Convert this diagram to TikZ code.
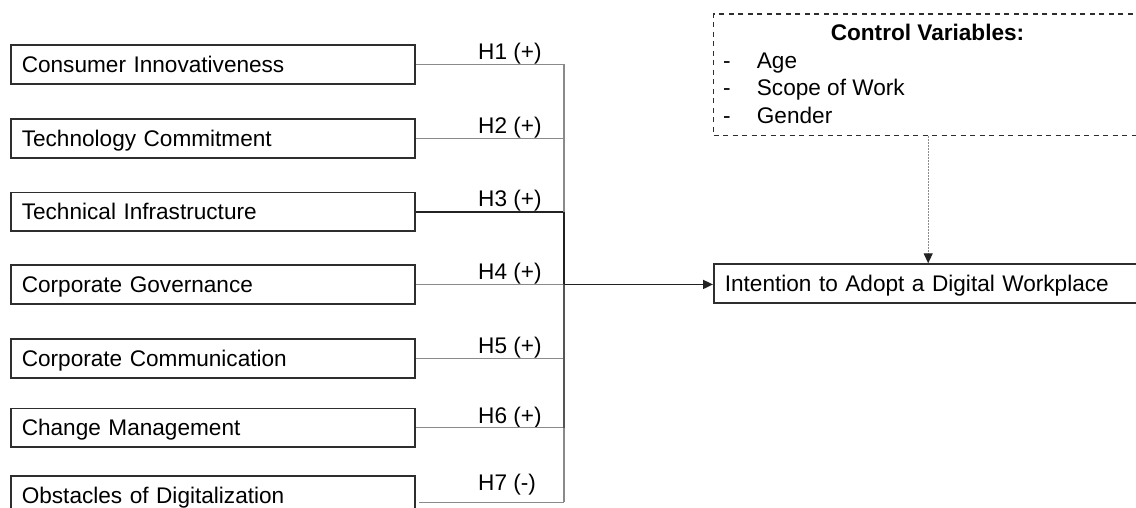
\documentclass[tikz,border=0pt]{standalone}
\usepackage{fontspec}
\setmainfont{Liberation Sans}
\usetikzlibrary{arrows.meta}
\definecolor{boxline}{HTML}{2E2E2E}
\definecolor{thinline}{HTML}{8A8A8A}
\definecolor{midline}{HTML}{555555}
\definecolor{darkline}{HTML}{222222}
\newcommand{\diagfont}{\fontsize{22.6}{27}\selectfont}
\newcommand{\widespaces}{\spaceskip=0.5em plus 0.1em\relax}
\tikzset{
  x=1pt, y=-1pt,
  factor/.style={draw=boxline, line width=1.6pt, anchor=north west,
    minimum width=404pt, minimum height=38.7pt, text width=382pt,
    inner xsep=11pt, inner ysep=0pt, align=left,
    text height=16.1pt, text depth=0pt, font=\diagfont\widespaces},
  outcome/.style={factor, minimum width=430pt, text width=408pt},
  ctrlbox/.style={draw=boxline, line width=1.4pt, dash pattern=on 5pt off 4.5pt,
    anchor=north west, minimum width=429pt, minimum height=121.7pt, inner sep=0pt},
  lbl/.style={anchor=base west, inner sep=0pt, font=\diagfont},
  ctrltitle/.style={anchor=base, inner sep=0pt, font=\diagfont\bfseries},
  thinconn/.style={draw=thinline, line width=1.2pt},
  midconn/.style={draw=midline, line width=1.5pt},
  darkconn/.style={draw=darkline, line width=1.8pt},
  tip/.style={-{Triangle[length=10pt,width=9pt,color=darkline]}},
  dotconn/.style={draw=thinline, line width=1pt, dash pattern=on 1.5pt off 1.5pt}
}
\begin{document}
\begin{tikzpicture}
\useasboundingbox (0,0) rectangle (1136,508);
\clip (0,0) rectangle (1136,508);

% antecedent constructs
\node[factor] (f1) at (10,44.3)  {Consumer Innovativeness};
\node[factor] (f2) at (10,118.3) {Technology Commitment};
\node[factor] (f3) at (10,191.7) {Technical Infrastructure};
\node[factor] (f4) at (10,264.3) {Corporate Governance};
\node[factor] (f5) at (10,338.3) {Corporate Communication};
\node[factor] (f6) at (10,407.7) {Change Management};
\node[factor] (f7) at (10,475)   {Obstacles of Digitalization};

% dependent construct
\node[outcome] (goal) at (713,263.3) {Intention to Adopt a Digital Workplace};

% control variables
\node[ctrlbox] (ctrl) at (713,13.3) {};
\node[ctrltitle] (ctitle) at (927.5,40.7) {Control Variables:};
\node[lbl] (d1) at (723,68.3)  {-};
\node[lbl] (d2) at (723,96)    {-};
\node[lbl] (d3) at (723,123.3) {-};
\node[lbl] (c1) at (756.7,68.3)  {Age};
\node[lbl] (c2) at (756.7,96)    {Scope of Work};
\node[lbl] (c3) at (756.7,123.3) {Gender};

% hypothesis labels
\node[lbl] (h1) at (478,59.5)  {H1 (+)};
\node[lbl] (h2) at (478,133.5) {H2 (+)};
\node[lbl] (h3) at (478,206.3) {H3 (+)};
\node[lbl] (h4) at (478,279.3) {H4 (+)};
\node[lbl] (h5) at (478,353)   {H5 (+)};
\node[lbl] (h6) at (478,423.5) {H6 (+)};
\node[lbl] (h7) at (478,490)   {H7 (-)};

% collecting bus
\coordinate (bus) at (564,0);
\coordinate (s7) at (419,502.3);
\draw[thinconn] (f1.east) -- (f1.east -| bus) coordinate (j1);
\draw[thinconn] (f2.east) -- (f2.east -| bus) coordinate (j2);
\draw[darkconn] (f3.east) -- (f3.east -| bus) coordinate (j3);
\draw[thinconn] (f4.east) -- (f4.east -| bus) coordinate (j4);
\draw[thinconn] (f5.east) -- (f5.east -| bus) coordinate (j5);
\draw[thinconn] (f6.east) -- (f6.east -| bus) coordinate (j6);
\draw[thinconn] (s7) -- (s7 -| bus) coordinate (j7);
\draw[thinconn] (j1) -- (j3);
\draw[darkconn] (j3) -- (j4);
\draw[midconn] (j4) -- (j6);
\draw[thinconn] (j6) -- (j7);

% main effect
\draw[darkconn, tip] (j4) -- (j4 -| goal.west);

% control effect
\draw[dotconn, tip] (ctrl.south) -- (ctrl.south |- goal.north);
\end{tikzpicture}
\end{document}
